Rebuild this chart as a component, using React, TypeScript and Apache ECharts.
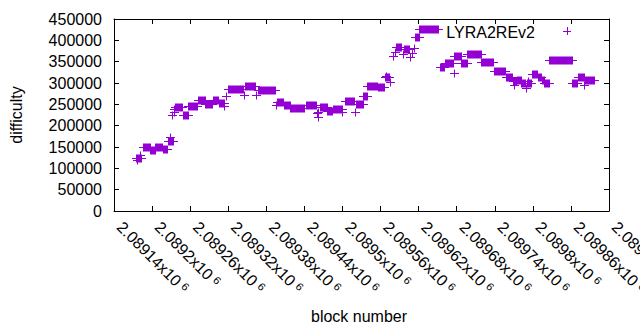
import React, { useEffect, useRef } from "react";
import * as echarts from "echarts";

// Runs of consecutive blocks sharing one difficulty value (start block, end block, difficulty).
const runStart = [
  2089174, 2089177, 2089181, 2089185, 2089197, 2089205, 2089217, 2089225, 2089228, 2089232,
  2089234, 2089235, 2089236, 2089249, 2089257, 2089272, 2089284, 2089296, 2089305, 2089314,
  2089317, 2089319, 2089345, 2089346, 2089364, 2089367, 2089395, 2089397, 2089408, 2089418,
  2089442, 2089460, 2089461, 2089462, 2089465, 2089476, 2089485, 2089499, 2089504, 2089520,
  2089521, 2089533, 2089539, 2089556, 2089567, 2089569, 2089575, 2089580, 2089582, 2089584,
  2089596, 2089597, 2089607, 2089610, 2089612, 2089614, 2089621, 2089653, 2089661, 2089675,
  2089676, 2089687, 2089697, 2089719, 2089738, 2089757, 2089768, 2089770, 2089775, 2089782,
  2089789, 2089790, 2089793, 2089799, 2089808, 2089814, 2089818, 2089825, 2089826, 2089862,
  2089871, 2089881, 2089882,
];
const runEnd = [
  2089183, 2089177, 2089181, 2089196, 2089204, 2089216, 2089224, 2089233, 2089228, 2089232,
  2089234, 2089235, 2089247, 2089256, 2089270, 2089283, 2089295, 2089304, 2089313, 2089314,
  2089317, 2089343, 2089345, 2089362, 2089364, 2089394, 2089395, 2089407, 2089417, 2089440,
  2089459, 2089460, 2089461, 2089462, 2089475, 2089484, 2089500, 2089499, 2089518, 2089520,
  2089532, 2089538, 2089555, 2089566, 2089573, 2089569, 2089575, 2089580, 2089582, 2089593,
  2089596, 2089605, 2089607, 2089610, 2089612, 2089620, 2089650, 2089660, 2089674, 2089675,
  2089686, 2089696, 2089718, 2089737, 2089756, 2089767, 2089774, 2089770, 2089781, 2089788,
  2089789, 2089797, 2089793, 2089807, 2089813, 2089817, 2089824, 2089825, 2089861, 2089870,
  2089880, 2089881, 2089896,
];
const runDifficulty = [
  124000, 119000, 131000, 149000, 142000, 150000, 145000, 165000, 173000, 225000,
  231000, 240000, 243000, 226000, 245000, 259500, 251500, 261000, 253000, 245000,
  269000, 286000, 272000, 292000, 272000, 283000, 248500, 255500, 248500, 240700,
  248000, 229000, 221000, 231000, 244500, 235500, 238600, 231000, 257000, 232800,
  250800, 270000, 292000, 289500, 314000, 316000, 303000, 363000, 373000, 384000,
  367000, 379000, 360000, 369600, 381000, 408000, 425800, 338000, 347000, 322700,
  362500, 347600, 367500, 350000, 328000, 313000, 304000, 295000, 306000, 299000,
  287600, 300000, 305000, 321000, 314000, 307000, 301000, 299000, 353000, 300500,
  313600, 295000, 306000,
];

const seriesName = "LYRA2REv2";
const xTitle = "block number";
const yTitle = "difficulty";

const COLOR = "#9400d3";
const FONT = '"Liberation Sans", Arial, sans-serif';

export default function App() {
  const ref = useRef<HTMLDivElement>(null);

  useEffect(() => {
    if (!ref.current) return;
    const chart = echarts.init(ref.current, undefined, { renderer: "svg" });
    const data = runStart.map((s, i) => [s, runEnd[i], runDifficulty[i]]);
    const H = 4;

    const xLabelFormatter = (v: number) => {
      const m = parseFloat((v / 1e6).toFixed(5)).toString();
      return `{a|${m}x10}{b|6}`;
    };

    const axisCommon = {
      axisLine: { show: true, onZero: false, lineStyle: { color: "#000", width: 1 } },
      axisTick: { show: true, inside: true, length: 5, lineStyle: { color: "#000", width: 1 } },
      splitLine: { show: false },
    };

    const option: any = {
      animation: false,
      backgroundColor: "#fff",
      grid: {
        left: 114,
        right: 31,
        top: 19,
        bottom: 119,
        containLabel: false,
        outerBoundsMode: "none",
      },
      xAxis: [
        {
          type: "value",
          min: 2089140,
          max: 2089920,
          interval: 60,
          position: "bottom",
          ...axisCommon,
          axisLabel: {
            rotate: -45,
            margin: 19,
            verticalAlign: "bottom",
            color: "#000",
            formatter: xLabelFormatter,
            rich: {
              a: { fontFamily: FONT, fontSize: 16, color: "#000" },
              b: {
                fontFamily: FONT,
                fontSize: 11,
                color: "#000",
                verticalAlign: "top",
                padding: [0, 0, 0, 4],
              },
            },
          },
        },
        {
          type: "value",
          min: 2089140,
          max: 2089920,
          interval: 60,
          position: "top",
          ...axisCommon,
          axisLabel: { show: false },
        },
      ],
      yAxis: [
        {
          type: "value",
          min: 0,
          max: 450000,
          interval: 50000,
          position: "left",
          ...axisCommon,
          axisLabel: {
            margin: 12,
            color: "#000",
            fontFamily: FONT,
            fontSize: 16,
            formatter: (v: number) => String(v),
          },
        },
        {
          type: "value",
          min: 0,
          max: 450000,
          interval: 50000,
          position: "right",
          ...axisCommon,
          axisLabel: { show: false },
        },
      ],
      series: [
        {
          name: seriesName,
          type: "custom",
          xAxisIndex: 0,
          yAxisIndex: 0,
          encode: { x: [0, 1], y: 2 },
          data,
          renderItem: (params: any, api: any) => {
            const s = api.value(0);
            const e = api.value(1);
            const v = api.value(2);
            const p0 = api.coord([s, v]);
            const p1 = api.coord([e, v]);
            const y = Math.round(p0[1]) + 0.5;
            const x0 = Math.round(p0[0]);
            const x1 = Math.round(p1[0]);
            return {
              type: "group",
              children: [
                {
                  type: "rect",
                  shape: { x: x0, y: y - H, width: x1 - x0 + 1, height: 2 * H },
                  style: { fill: COLOR },
                },
                {
                  type: "line",
                  shape: { x1: x0 - H, y1: y, x2: x1 + 1 + H, y2: y },
                  style: { stroke: COLOR, lineWidth: 1 },
                },
              ],
            };
          },
        },
      ],
      graphic: [
        {
          type: "text",
          x: 16,
          y: 115,
          rotation: Math.PI / 2,
          style: {
            text: yTitle,
            font: `16px ${FONT}`,
            fill: "#000",
            align: "center",
            verticalAlign: "middle",
          },
        },
        {
          type: "text",
          x: 359,
          y: 316,
          style: {
            text: xTitle,
            font: `16px ${FONT}`,
            fill: "#000",
            align: "center",
            verticalAlign: "middle",
          },
        },
        {
          type: "text",
          x: 535,
          y: 32,
          style: {
            text: seriesName,
            font: `16px ${FONT}`,
            fill: "#000",
            align: "right",
            verticalAlign: "middle",
          },
        },
        {
          type: "line",
          shape: { x1: 563, y1: 31.5, x2: 571, y2: 31.5 },
          style: { stroke: COLOR, lineWidth: 1 },
        },
        {
          type: "line",
          shape: { x1: 567.5, y1: 27, x2: 567.5, y2: 35 },
          style: { stroke: COLOR, lineWidth: 1 },
        },
      ],
    };

    chart.setOption(option);
    return () => chart.dispose();
  }, []);

  return (
    <div
      ref={ref}
      style={{ position: "absolute", left: 0, top: 0, width: 640, height: 330, background: "#fff" }}
    />
  );
}
